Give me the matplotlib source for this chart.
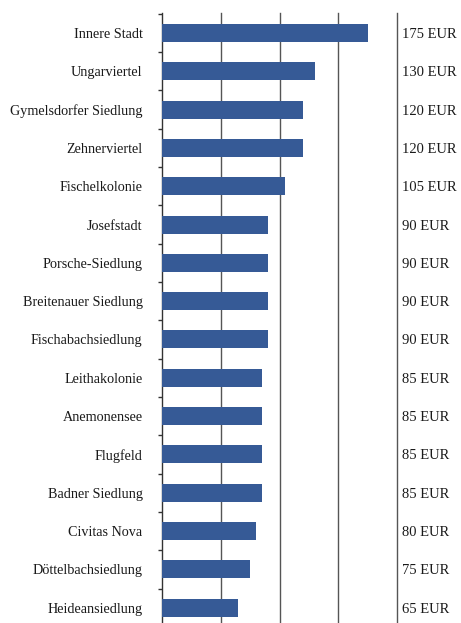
import numpy as np
import matplotlib.pyplot as plt
from matplotlib import font_manager

districts = ['Innere Stadt', 'Ungarviertel', 'Gymelsdorfer Siedlung', 'Zehnerviertel',
             'Fischelkolonie', 'Josefstadt', 'Porsche-Siedlung', 'Breitenauer Siedlung',
             'Fischabachsiedlung', 'Leithakolonie', 'Anemonensee', 'Flugfeld',
             'Badner Siedlung', 'Civitas Nova', 'Döttelbachsiedlung', 'Heideansiedlung']
prices = [175, 130, 120, 120, 105, 90, 90, 90, 90, 85, 85, 85, 85, 80, 75, 65]
price_labels = [f'{p} EUR' for p in prices]
grid_x = [50, 100, 150, 200]

names = {f.name for f in font_manager.fontManager.ttflist}
fam = 'Liberation Serif' if 'Liberation Serif' in names else 'DejaVu Serif'
plt.rcParams['font.family'] = [fam]

fig = plt.figure(figsize=(4.61, 6.23), dpi=100)
ax = fig.add_axes([162 / 461, 0, (397 - 162) / 461, (623 - 13) / 623])

y = np.arange(len(districts))
ax.barh(y, prices, height=0.47, color='#365a96', zorder=3)
ax.set_xlim(0, 200)
ax.set_ylim(len(districts) - 1 + 0.4, -0.52)

for gx in grid_x:
    ax.axvline(gx, color='#555555', lw=1.0, zorder=1, clip_on=False)

for s in ['top', 'right', 'bottom']:
    ax.spines[s].set_visible(False)
ax.spines['left'].set_color('#333333')
ax.spines['left'].set_linewidth(1.0)

ax.set_xticks([])
ax.set_yticks(y)
ax.set_yticklabels(districts, fontsize=10.2, va='center_baseline')
ax.tick_params(axis='y', which='major', length=0, pad=14, colors='#1a1a1a')
ax.set_yticks(np.arange(-0.5, len(districts) - 0.5, 1), minor=True)
ax.tick_params(axis='y', which='minor', length=3, width=1, color='#333333')

for yi, lab in zip(y, price_labels):
    ax.text(204.5, yi, lab, ha='left', va='center_baseline', fontsize=10.5,
            color='#1a1a1a')

fig.savefig('out.png', dpi=100)
